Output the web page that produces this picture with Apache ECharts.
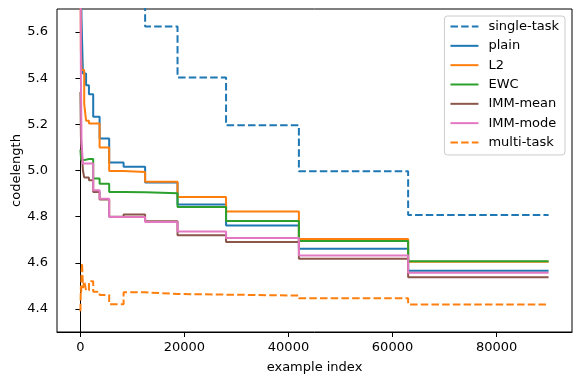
<!DOCTYPE html>
<html>
<head>
<meta charset="utf-8">
<script src="https://cdn.jsdelivr.net/npm/echarts@6.0.0/dist/echarts.min.js"></script>
<style>
  html, body { margin: 0; padding: 0; background: #fff; }
  #chart { width: 581px; height: 381px; }
</style>
</head>
<body>
<div id="chart"></div>
<script>
// task boundaries (example index), last entry is the end of the run
const steps = [0, 96, 144, 216, 324, 486, 730, 1090, 1640, 2460, 3690, 5530, 8300, 12440, 18670, 28000, 42000, 63000, 90000]

// codelength per method, one value per boundary (steps-post)
const singleTask = [6.0, 6.0, 6.0, 6.0, 6.0, 6.0, 6.0, 6.0, 6.0, 6.0, 6.0, 6.0, 6.0, 5.624, 5.403, 5.196, 4.997, 4.807, 4.807]
const plain = [6.0, 6.0, 6.0, 5.656, 5.656, 5.42, 5.42, 5.37, 5.33, 5.233, 5.139, 5.035, 5.016, 4.948, 4.853, 4.762, 4.661, 4.565, 4.565]
const l2 = [6.0, 5.52, 5.52, 5.436, 5.436, 5.436, 5.29, 5.216, 5.204, 5.204, 5.10, 4.998, 4.994, 4.951, 4.885, 4.822, 4.703, 4.604, 4.604]
const ewc = [5.09, 5.09, 5.045, 5.045, 5.045, 5.045, 5.045, 5.05, 5.05, 4.965, 4.943, 4.907, 4.906, 4.901, 4.842, 4.781, 4.694, 4.607, 4.607]
const immMean = [5.34, 5.15, 5.15, 5.09, 5.09, 5.0, 4.97, 4.97, 4.958, 4.907, 4.874, 4.80, 4.809, 4.780, 4.719, 4.69, 4.617, 4.537, 4.537]
const immMode = [6.0, 5.40, 5.40, 5.12, 5.12, 5.03, 5.03, 5.03, 5.03, 4.914, 4.878, 4.798, 4.798, 4.777, 4.736, 4.707, 4.632, 4.557, 4.557]
const multiTask = [4.39, 4.50, 4.47, 4.55, 4.60, 4.49, 4.52, 4.48, 4.52, 4.475, 4.46, 4.42, 4.472, 4.465, 4.462, 4.458, 4.446, 4.419, 4.419]

const xTicks = [0, 20000, 40000, 60000, 80000]
const yTicks = [4.4, 4.6, 4.8, 5.0, 5.2, 5.4, 5.6]

const font = 'DejaVu Sans'
const fs = 13

function pairs(vals) {
  return steps.map((x, i) => [x, vals[i]])
}

function makeSeries(name, vals, color, dashed) {
  return {
    name: name,
    type: 'line',
    step: 'end',
    symbol: 'none',
    clip: true,
    color: color,
    lineStyle: {
      color: color,
      width: 2,
      type: dashed ? [7.5, 3.2] : 'solid'
    },
    data: pairs(vals)
  }
}

const myChart = echarts.init(document.getElementById('chart'), null, { renderer: 'canvas' })

const option = {
  animation: false,
  backgroundColor: '#fff',
  textStyle: { fontFamily: font },
  grid: {
    left: 57,
    right: 9,
    top: 9,
    bottom: 49,
    // keep the plot box where it is, labels sit outside of it
    outerBoundsMode: 'none',
    containLabel: false,
    show: true,
    borderColor: '#000',
    borderWidth: 1,
    backgroundColor: 'transparent'
  },
  legend: {
    orient: 'vertical',
    right: 16,
    top: 16,
    padding: [4, 6, 6, 5],
    itemWidth: 28,
    itemHeight: 13,
    itemGap: 6.33,
    // line only, no marker in the legend
    itemStyle: { opacity: 0 },
    backgroundColor: 'rgba(255,255,255,0.8)',
    borderColor: '#ccc',
    borderWidth: 1,
    borderRadius: 3,
    textStyle: { fontFamily: font, fontSize: fs, lineHeight: 13, color: '#000', padding: [0, 0, 0, 5] },
    data: ['single-task', 'plain', 'L2', 'EWC', 'IMM-mean', 'IMM-mode', 'multi-task']
  },
  xAxis: {
    type: 'value',
    min: -4500,
    max: 94500,
    name: 'example index',
    nameLocation: 'middle',
    nameGap: 29,
    nameMoveOverlap: false,
    nameTextStyle: { fontFamily: font, fontSize: fs, color: '#000' },
    splitLine: { show: false },
    axisLine: { lineStyle: { color: '#000', width: 1 } },
    axisTick: { customValues: xTicks, length: 5, lineStyle: { color: '#000' } },
    axisLabel: {
      customValues: xTicks,
      margin: 9,
      fontFamily: font,
      fontSize: fs,
      color: '#000',
      formatter: v => String(v)
    }
  },
  yAxis: {
    type: 'value',
    min: 4.3,
    max: 5.7,
    name: 'codelength',
    nameLocation: 'middle',
    nameGap: 34,
    nameMoveOverlap: false,
    nameTextStyle: { fontFamily: font, fontSize: fs, color: '#000' },
    splitLine: { show: false },
    axisLine: { show: true, lineStyle: { color: '#000', width: 1 } },
    axisTick: { show: true, customValues: yTicks, length: 5, lineStyle: { color: '#000' } },
    axisLabel: {
      customValues: yTicks,
      margin: 9,
      fontFamily: font,
      fontSize: fs,
      color: '#000',
      formatter: v => v.toFixed(1)
    }
  },
  series: [
    makeSeries('single-task', singleTask, '#1f77b4', true),
    makeSeries('plain', plain, '#1f77b4', false),
    makeSeries('L2', l2, '#ff7f0e', false),
    makeSeries('EWC', ewc, '#2ca02c', false),
    makeSeries('IMM-mean', immMean, '#8c564b', false),
    makeSeries('IMM-mode', immMode, '#e377c2', false),
    makeSeries('multi-task', multiTask, '#ff7f0e', true)
  ]
}

option && myChart.setOption(option)
</script>
</body>
</html>
